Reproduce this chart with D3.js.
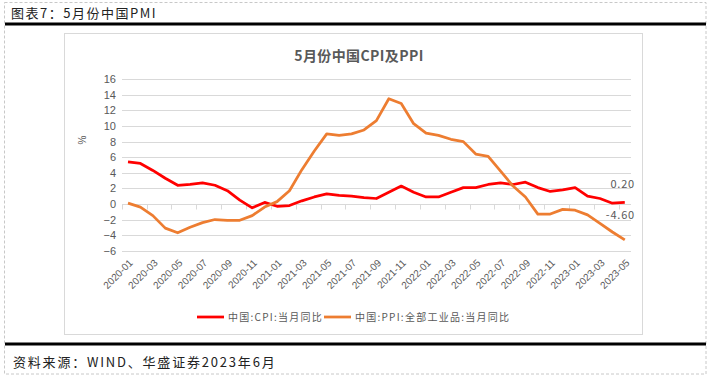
<!DOCTYPE html>
<html>
<head>
<meta charset="utf-8">
<script src="https://cdn.jsdelivr.net/npm/d3@7"></script>
<style>
  body { margin: 0; background: #fff; }
  svg { display: block; }
</style>
</head>
<body>
<svg id="chart" width="709" height="377"></svg>
<script>
// 数据
const months = []
for (let y = 2020; y <= 2023; y++) {
    for (let m = 1; m <= 12; m++) {
        if (y === 2023 && m > 5) break
        months.push(`${y}-${String(m).padStart(2, '0')}`)
    }
}
const cpi = [5.4, 5.2, 4.3, 3.3, 2.4, 2.5, 2.7, 2.4, 1.7, 0.5, -0.5, 0.2,
    -0.3, -0.2, 0.4, 0.9, 1.3, 1.1, 1.0, 0.8, 0.7, 1.5, 2.3, 1.5,
    0.9, 0.9, 1.5, 2.1, 2.1, 2.5, 2.7, 2.5, 2.8, 2.1, 1.6, 1.8,
    2.1, 1.0, 0.7, 0.1, 0.2]
const ppi = [0.1, -0.4, -1.5, -3.1, -3.7, -3.0, -2.4, -2.0, -2.1, -2.1, -1.5, -0.4,
    0.3, 1.7, 4.4, 6.8, 9.0, 8.8, 9.0, 9.5, 10.7, 13.5, 12.9, 10.3,
    9.1, 8.8, 8.3, 8.0, 6.4, 6.1, 4.2, 2.3, 0.9, -1.3, -1.3, -0.7,
    -0.8, -1.4, -2.5, -3.6, -4.6]
const yTicks = [-6, -4, -2, 0, 2, 4, 6, 8, 10, 12, 14, 16]
const seriesNames = ['中国:CPI:当月同比', '中国:PPI:全部工业品:当月同比']
const seriesColors = ['#ff0000', '#ed7d31']
const lastLabels = ['0.20', '-4.60']

const svg = d3.select('#chart')
const cjk = '"Noto Sans CJK SC", "Noto Sans", sans-serif'
const latin = '"Liberation Sans", Arial, sans-serif'

// 外框
svg.append('rect')
    .attr('x', 4.5).attr('y', 2.5)
    .attr('width', 701.5).attr('height', 371.5)
    .attr('fill', 'none')
    .attr('stroke', '#c8c8c8')
    .attr('stroke-dasharray', '3,2')

// 标题栏
svg.append('text')
    .attr('x', 11).attr('y', 18)
    .attr('font-family', cjk).attr('font-size', 13)
    .attr('letter-spacing', 1.5)
    .attr('fill', '#222')
    .text('图表7：5月份中国PMI')
svg.append('line')
    .attr('x1', 5).attr('x2', 706).attr('y1', 24).attr('y2', 24)
    .attr('stroke', '#000').attr('stroke-width', 3)

// 来源
svg.append('line')
    .attr('x1', 5).attr('x2', 706).attr('y1', 344).attr('y2', 344)
    .attr('stroke', '#000').attr('stroke-width', 3)
svg.append('text')
    .attr('x', 13).attr('y', 367)
    .attr('font-family', cjk).attr('font-size', 13)
    .attr('letter-spacing', 1.8)
    .attr('fill', '#222')
    .text('资料来源：WIND、华盛证券2023年6月')

// 图表框
svg.append('rect')
    .attr('x', 64.5).attr('y', 33.5)
    .attr('width', 578).attr('height', 301)
    .attr('fill', '#fff')
    .attr('stroke', '#d9d9d9')

svg.append('text')
    .attr('x', 359).attr('y', 61)
    .attr('text-anchor', 'middle')
    .attr('font-family', cjk).attr('font-size', 14).attr('font-weight', 'bold')
    .attr('letter-spacing', 0.4)
    .attr('fill', '#595959')
    .text('5月份中国CPI及PPI')

const x = d3.scaleBand().domain(months).range([121.8, 631]).padding(0)
const y = d3.scaleLinear().domain([-6, 16]).range([250.7, 79.3])
const cx = d => x(d) + x.bandwidth() / 2

// 网格
svg.append('g')
    .selectAll('line')
    .data(yTicks)
    .join('line')
    .attr('x1', 122).attr('x2', 631)
    .attr('y1', d => Math.round(y(d)) + 0.5)
    .attr('y2', d => Math.round(y(d)) + 0.5)
    .attr('stroke', '#d9d9d9')

// y 轴
const yAxis = svg.append('g')
    .attr('transform', 'translate(122,0)')
    .call(d3.axisLeft(y).tickValues(yTicks).tickSize(0).tickPadding(6))
yAxis.select('.domain').remove()
yAxis.selectAll('text')
    .attr('font-family', latin).attr('font-size', 11)
    .attr('fill', '#595959')

svg.append('text')
    .attr('transform', `translate(86,140) rotate(-90)`)
    .attr('text-anchor', 'middle')
    .attr('font-family', latin).attr('font-size', 10)
    .attr('fill', '#595959')
    .text('%')

// x 轴 (在 0 处)
const y0 = Math.round(y(0)) + 0.5
svg.append('line')
    .attr('x1', 122).attr('x2', 631).attr('y1', y0).attr('y2', y0)
    .attr('stroke', '#d9d9d9')
const boundaries = d3.range(0, months.length + 1, 2).map(k => x.range()[0] + k * x.bandwidth())
svg.append('g')
    .selectAll('line')
    .data(boundaries)
    .join('line')
    .attr('x1', d => Math.round(d) + 0.5).attr('x2', d => Math.round(d) + 0.5)
    .attr('y1', y0).attr('y2', y0 + 5)
    .attr('stroke', '#d9d9d9')

svg.append('g')
    .selectAll('text')
    .data(months.filter((d, i) => i % 2 === 0))
    .join('text')
    .attr('transform', d => `translate(${cx(d) + 3},261) rotate(-45)`)
    .attr('text-anchor', 'end')
    .attr('dy', '0.35em')
    .attr('font-family', latin).attr('font-size', 10)
    .attr('fill', '#595959')
    .text(d => d)

// 折线
const line = d3.line()
    .x((d, i) => cx(months[i]))
    .y(d => y(d))
const series = [cpi, ppi]
svg.append('g')
    .selectAll('path')
    .data(series)
    .join('path')
    .attr('d', d => line(d))
    .attr('fill', 'none')
    .attr('stroke', (d, i) => seriesColors[i])
    .attr('stroke-width', 2.75)
    .attr('stroke-linejoin', 'round')

// 末值标签
svg.append('g')
    .selectAll('text')
    .data(series)
    .join('text')
    .attr('x', 635)
    .attr('y', (d, i) => i === 0 ? y(d[d.length - 1]) - 14 : y(d[d.length - 1]) - 21)
    .attr('text-anchor', 'end')
    .attr('font-family', cjk).attr('font-size', 11)
    .attr('letter-spacing', 0.8)
    .attr('fill', '#595959')
    .text((d, i) => lastLabels[i])

// 图例
const legend = svg.append('g').attr('transform', 'translate(197,317)')
const legendX = [0, 127]
seriesNames.forEach((name, i) => {
    const g = legend.append('g').attr('transform', `translate(${legendX[i]},0)`)
    g.append('line')
        .attr('x1', 0).attr('x2', 27).attr('y1', 0).attr('y2', 0)
        .attr('stroke', seriesColors[i]).attr('stroke-width', 2.75)
    g.append('text')
        .attr('x', 31).attr('y', 0).attr('dy', '0.35em')
        .attr('font-family', cjk).attr('font-size', 10)
        .attr('letter-spacing', 1.25)
        .attr('fill', '#595959')
        .text(name)
})
</script>
</body>
</html>
